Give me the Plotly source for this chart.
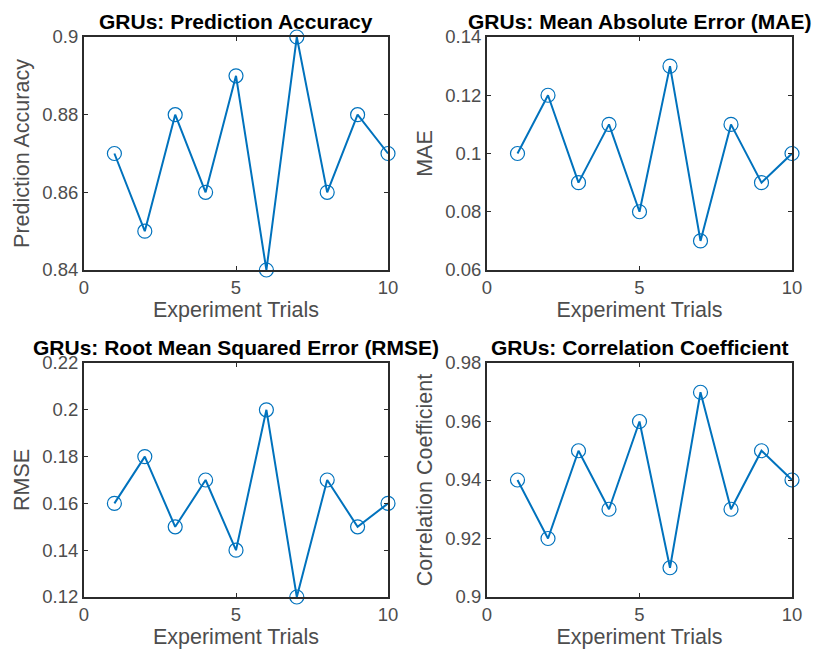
import plotly.graph_objects as go

trials = [1, 2, 3, 4, 5, 6, 7, 8, 9, 10]
accuracy = [0.87, 0.85, 0.88, 0.86, 0.89, 0.84, 0.90, 0.86, 0.88, 0.87]
mae = [0.10, 0.12, 0.09, 0.11, 0.08, 0.13, 0.07, 0.11, 0.09, 0.10]
rmse = [0.16, 0.18, 0.15, 0.17, 0.14, 0.20, 0.12, 0.17, 0.15, 0.16]
corr = [0.94, 0.92, 0.95, 0.93, 0.96, 0.91, 0.97, 0.93, 0.95, 0.94]

titles = ["GRUs: Prediction Accuracy", "GRUs: Mean Absolute Error (MAE)",
          "GRUs: Root Mean Squared Error (RMSE)", "GRUs: Correlation Coefficient"]
ylabels = ["Prediction Accuracy", "MAE", "RMSE", "Correlation Coefficient"]
series = [accuracy, mae, rmse, corr]
yranges = [[0.84, 0.90], [0.06, 0.14], [0.12, 0.22], [0.90, 0.98]]
ydtick = [0.02, 0.02, 0.02, 0.02]

W, H = 819, 650
xdoms = [[84 / W, 388 / W], [487 / W, 792 / W]]
ydoms = [[1 - 270 / H, 1 - 37 / H], [1 - 597 / H, 1 - 363 / H]]

fig = go.Figure()
font_fam = "Liberation Sans, Arial, sans-serif"
color = "#0072BD"
gray = "#4d4d4d"

for i in range(4):
    r, c = divmod(i, 2)
    xa = "x" if i == 0 else f"x{i+1}"
    ya = "y" if i == 0 else f"y{i+1}"
    fig.add_trace(go.Scatter(
        x=trials, y=series[i], mode="lines+markers",
        line=dict(color=color, width=2),
        marker=dict(symbol="circle-open", size=14, color=color, line=dict(width=1.2)),
        xaxis=xa, yaxis=ya, showlegend=False, cliponaxis=False))
    axis_common = dict(
        showgrid=False, zeroline=False, showline=True, linecolor="#2b2b2b", linewidth=2,
        mirror="allticks", ticks="inside", ticklen=4, tickcolor="#2b2b2b", automargin=False,
        tickfont=dict(family=font_fam, size=18.5, color=gray),
    )
    fig.layout[f"xaxis{'' if i == 0 else i+1}"] = dict(
        axis_common, domain=xdoms[c], anchor=ya, range=[0, 10], tickvals=[0, 5, 10],
        title=dict(text="Experiment Trials", font=dict(family=font_fam, size=21.5, color=gray), standoff=5))
    fig.layout[f"yaxis{'' if i == 0 else i+1}"] = dict(
        axis_common, domain=ydoms[r], anchor=xa, range=yranges[i], dtick=ydtick[i],
        tickformat="~g",
        title=dict(text=ylabels[i], font=dict(family=font_fam, size=21.5, color=gray), standoff=7))
    fig.add_annotation(
        text=f"<b>{titles[i]}</b>", xref="paper", yref="paper",
        x=(xdoms[c][0] + xdoms[c][1]) / 2, y=ydoms[r][1], yanchor="bottom", xanchor="center",
        showarrow=False, yshift=2, font=dict(family=font_fam, size=21, color="#000000"))

fig.update_layout(width=W, height=H, margin=dict(l=0, r=0, t=0, b=0),
                  paper_bgcolor="white", plot_bgcolor="white")
fig.write_html("out.html", post_script="document.body.style.margin='0';",
               config={"displayModeBar": False})
